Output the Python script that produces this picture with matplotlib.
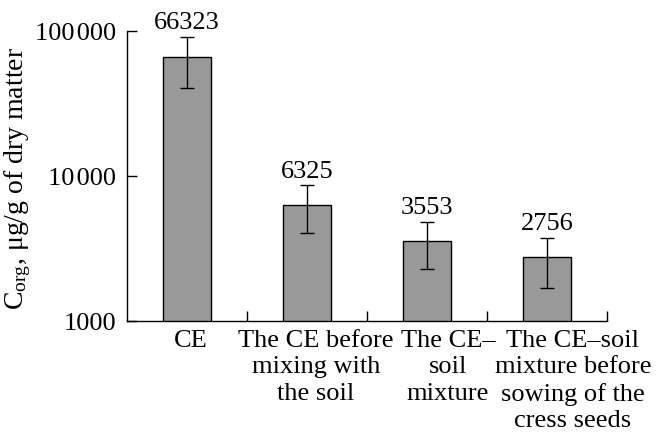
import numpy as np
import matplotlib
matplotlib.use("Agg")
import matplotlib.pyplot as plt
from matplotlib.ticker import FixedLocator, NullLocator
from matplotlib.transforms import ScaledTranslation

plt.rcParams["font.family"] = ["Liberation Serif", "DejaVu Serif"]
plt.rcParams["mathtext.fontset"] = "custom"
plt.rcParams["mathtext.rm"] = "Liberation Serif"
plt.rcParams["mathtext.it"] = "Liberation Serif:italic"

categories = [
    "CE",
    "The CE before\nmixing with\nthe soil",
    "The CE\u2013\nsoil\nmixture",
    "The CE\u2013soil\nmixture before\nsowing of the\ncress seeds",
]
values = [66323, 6325, 3553, 2756]
err_low = [40400, 4030, 2290, 1700]
err_high = [91300, 8630, 4800, 3730]
ytick_vals = [1000, 10000, 100000]
ytick_labels = ["1000", "10\u200a000", "100\u200a000"]

fig = plt.figure(figsize=(6.56, 4.37), dpi=100)
ax = fig.add_axes([0.1936, 0.2654, 0.7317, 0.6636])

x = np.arange(len(categories))
vals = np.array(values)
yerr = np.array([vals - np.array(err_low), np.array(err_high) - vals])

ax.bar(x, vals, width=0.405, color="#999999", edgecolor="black", linewidth=1.0, zorder=2)
ax.errorbar(x, vals, yerr=yerr, fmt="none", ecolor="black", elinewidth=1.0,
            capsize=5, capthick=1.0, zorder=3)

for xi, v, hi in zip(x, values, err_high):
    ax.annotate(str(v), (xi, hi), xytext=(0, 2), textcoords="offset points",
                ha="center", va="bottom", fontsize=19)

ax.set_yscale("log")
ax.set_ylim(1000, 100000)
ax.set_xlim(-0.5, 3.5)
ax.yaxis.set_major_locator(FixedLocator(ytick_vals))
ax.yaxis.set_minor_locator(NullLocator())
ax.set_yticklabels(ytick_labels)
ax.set_xticks(x)
ax.set_xticklabels([])
ax.xaxis.set_minor_locator(FixedLocator([0.5, 1.5, 2.5, 3.5]))

# category labels drawn by hand: in the original they sit a bit right of the bars
shifts_px = [4, 9, 21, 26]
for xi, cat, dx in zip(x, categories, shifts_px):
    tr = ax.get_xaxis_transform() + ScaledTranslation(dx / 100, -9 / 100, fig.dpi_scale_trans)
    ax.text(xi, 0, cat, transform=tr, ha="center", va="top", multialignment="center",
            fontsize=19, linespacing=1.25)

ax.tick_params(axis="y", direction="in", length=7, width=1, labelsize=19, pad=8)
ax.tick_params(axis="x", which="major", length=0)
ax.tick_params(axis="x", which="minor", direction="in", length=7, width=1)

ax.spines["top"].set_visible(False)
ax.spines["right"].set_visible(False)
ax.spines["left"].set_linewidth(1)
ax.spines["bottom"].set_linewidth(1)

ax.set_ylabel("C$_{\\mathrm{org}}$, \u03bcg/g of dry matter", fontsize=20)
ax.yaxis.set_label_coords(-0.196, 0.49)

fig.savefig("out.png", dpi=100)
